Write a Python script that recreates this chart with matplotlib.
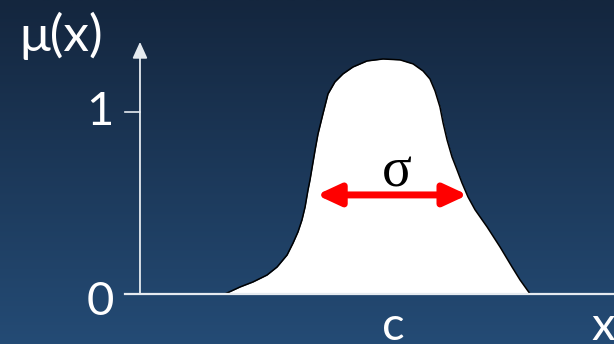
import numpy as np
import matplotlib.pyplot as plt
from matplotlib.patches import FancyArrowPatch
from matplotlib.colors import LinearSegmentedColormap

# membership curve mu(x) (x in units of the y-scale)
x_vals = [0.467, 0.549, 0.621, 0.698, 0.753, 0.808, 0.841, 0.868, 0.890, 0.907,
          0.923, 0.934, 0.962, 0.978, 1.005, 1.033, 1.071, 1.115, 1.170, 1.247,
          1.335, 1.429, 1.500, 1.555, 1.593, 1.621, 1.648, 1.665, 1.687, 1.714,
          1.742, 1.769, 1.802, 1.841, 1.907, 1.978, 2.044, 2.088, 2.143]
mu_vals = [0.000, 0.038, 0.066, 0.104, 0.148, 0.214, 0.280, 0.341, 0.407, 0.478,
           0.571, 0.626, 0.791, 0.879, 0.989, 1.099, 1.165, 1.209, 1.247, 1.280,
           1.291, 1.286, 1.264, 1.225, 1.181, 1.115, 1.027, 0.940, 0.846, 0.753,
           0.681, 0.610, 0.533, 0.462, 0.368, 0.258, 0.148, 0.077, 0.000]

ytick_vals = [0, 1]
ytick_labels = ['0', '1']
c_pos = 1.39          # centre label "c"
sigma_left, sigma_right, sigma_level = 0.97, 1.80, 0.544

fig = plt.figure(figsize=(6.14, 3.44), dpi=100)
ax = fig.add_axes([0, 0, 1, 1])
xlim = (-0.769, 2.604)
ylim = (-0.275, 1.615)
ax.set_xlim(xlim)
ax.set_ylim(ylim)
ax.axis('off')

# background gradient (dark navy top -> lighter blue bottom)
cmap = LinearSegmentedColormap.from_list('bg', ['#244b75', '#14263e'])
grad = np.linspace(0, 1, 256).reshape(-1, 1)
ax.imshow(grad, extent=(xlim[0], xlim[1], ylim[0], ylim[1]), origin='lower',
          aspect='auto', cmap=cmap, zorder=0)

# curve
ax.fill_between(x_vals, mu_vals, 0, color='white', zorder=2, lw=0)
ax.plot(x_vals, mu_vals, color='black', lw=1.1, zorder=3)

# axes lines
axis_col = '#e6ebf0'
tick_len = 0.082
ax.plot([-tick_len, xlim[1]], [0, 0], color=axis_col, lw=1.6, zorder=4)
ax.plot([-tick_len, 0], [1, 1], color=axis_col, lw=1.2, zorder=4)
ax.annotate('', xy=(0, 1.385), xytext=(0, 0),
            arrowprops=dict(arrowstyle='-|>,head_length=0.55,head_width=0.25',
                            color=axis_col, lw=1.3, shrinkA=0, shrinkB=0,
                            mutation_scale=18), zorder=4)

font = ['Lato', 'DejaVu Sans']
for v, lab in zip(ytick_vals, ytick_labels):
    ax.text(-0.22, v - (0.044 if v == 0 else 0), lab, color='white', fontsize=34,
            family=font, ha='center', va='center', zorder=5)
ax.text(-0.434, 1.418, 'μ(x)', color='white', fontsize=37, family=font,
        ha='center', va='center', zorder=5)
ax.text(c_pos, -0.181, 'c', color='white', fontsize=34, family=font,
        ha='center', va='center', zorder=5)
ax.text(2.544, -0.181, 'x', color='white', fontsize=34, family=font,
        ha='center', va='center', zorder=5)

# sigma width arrow
arr = FancyArrowPatch((sigma_left, sigma_level), (sigma_right, sigma_level),
                      arrowstyle='<|-|>,head_length=14,head_width=6.5',
                      mutation_scale=1, color='#ff0000', lw=5,
                      shrinkA=0, shrinkB=0, zorder=6)
ax.add_patch(arr)
ax.text(1.412, 0.665, 'σ', color='black', fontsize=40,
        family=['Liberation Serif', 'DejaVu Serif'], ha='center', va='center', zorder=6)

fig.savefig('out.png', dpi=100)
